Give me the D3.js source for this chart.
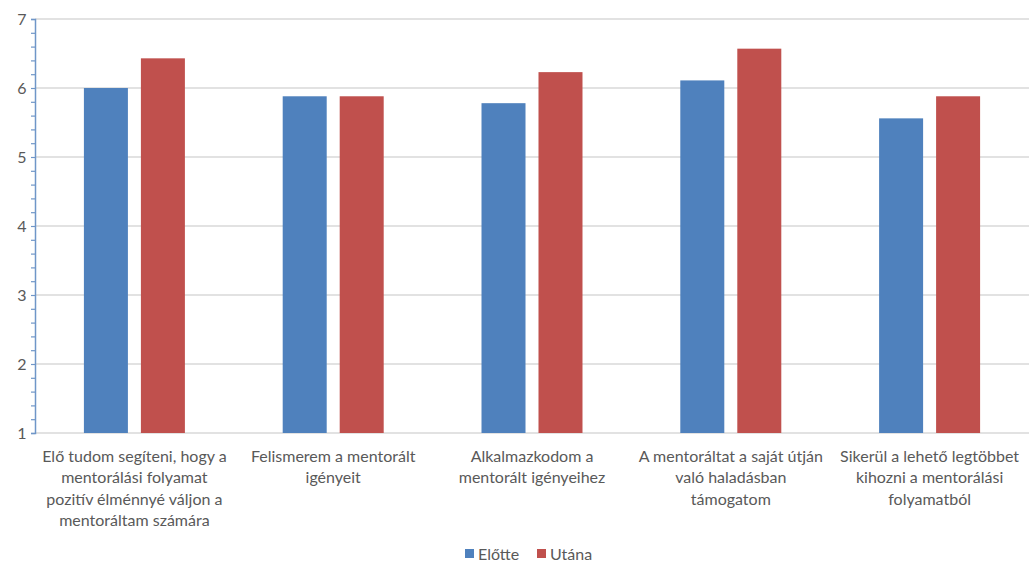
<!DOCTYPE html>
<html><head><meta charset="utf-8">
<script src="https://cdn.jsdelivr.net/npm/d3@7"></script>
<style>body{margin:0;background:#fff;} text{font-family:Lato, "Open Sans", sans-serif;}</style>
</head><body>
<svg id="c" width="1029" height="562"></svg>
<script>
const categories = [
  ["Elő tudom segíteni, hogy a","mentorálási folyamat","pozitív élménnyé váljon a","mentoráltam számára"],
  ["Felismerem a mentorált","igényeit"],
  ["Alkalmazkodom a","mentorált igényeihez"],
  ["A mentoráltat a saját útján","való haladásban","támogatom"],
  ["Sikerül a lehető legtöbbet","kihozni a mentorálási","folyamatból"]
];
const seriesNames = ["Előtte","Utána"];
const elotte = [6.0, 5.88, 5.78, 6.11, 5.56];
const utana  = [6.43, 5.88, 6.23, 6.57, 5.88];
const yTicks = [1,2,3,4,5,6,7];
const colors = ["#4F81BD","#C0504D"];

const svg = d3.select("#c");
const m = {l:35, r:0, t:19, b:129};
const W = 1029, H = 562;
const x0 = d3.scaleBand().domain(d3.range(categories.length)).range([m.l, W-m.r]).paddingInner(0).paddingOuter(0);
const x1 = d3.scaleBand().domain([0,1]).range([0, x0.bandwidth()]).paddingInner(0.228).paddingOuter(0.858);
const y = d3.scaleLinear().domain([1,7]).range([H-m.b, m.t]);

// gridlines
svg.append("g").selectAll("line").data(yTicks).join("line")
  .attr("x1", m.l).attr("x2", W).attr("y1", d=>y(d)).attr("y2", d=>y(d))
  .attr("stroke","#D9D9D9").attr("stroke-width",1.3);

// bars
const data = categories.map((c,i)=>[elotte[i], utana[i]]);
const g = svg.append("g").selectAll("g").data(data).join("g")
  .attr("transform",(d,i)=>`translate(${x0(i)},0)`);
g.selectAll("rect").data(d=>d).join("rect")
  .attr("x",(d,j)=>x1(j)).attr("width",x1.bandwidth())
  .attr("y",d=>y(d)).attr("height",d=>y(1)-y(d))
  .attr("fill",(d,j)=>colors[j]);

// y axis
const ya = d3.axisLeft(y).tickValues(d3.range(1,7.01,0.2)).tickSize(4).tickFormat("");
const yg = svg.append("g").attr("transform",`translate(${m.l},0)`).call(ya);
yg.select(".domain").attr("stroke","#6F96C8").attr("stroke-width",1.5);
yg.selectAll(".tick line").attr("stroke","#6F96C8").attr("stroke-width",1.2);
svg.append("g").selectAll("text").data(yTicks).join("text")
  .attr("x",22).attr("y",d=>y(d)).attr("dy","0.36em").attr("text-anchor","middle")
  .attr("fill","#595959").attr("font-size",16).text(d=>d);

// category labels
const lab = svg.append("g").selectAll("text").data(categories).join("text")
  .attr("text-anchor","middle").attr("fill","#595959").attr("font-size",16)
  .attr("transform",(d,i)=>`translate(${x0(i)+x0.bandwidth()/2},462)`);
lab.selectAll("tspan").data(d=>d).join("tspan")
  .attr("x",0).attr("y",(d,k)=>k*21.4).text(d=>d);

// legend
const leg = svg.append("g").attr("transform","translate(465,554)");
const items = leg.selectAll("g").data(seriesNames).join("g")
  .attr("transform",(d,i)=>`translate(${i*72},0)`);
items.append("rect").attr("x",0).attr("y",-5).attr("width",9).attr("height",9).attr("fill",(d,i)=>colors[i]);
items.append("text").attr("x",13).attr("y",0).attr("dy","0.36em").attr("fill","#595959").attr("font-size",16).text(d=>d);
</script>
</body></html>
